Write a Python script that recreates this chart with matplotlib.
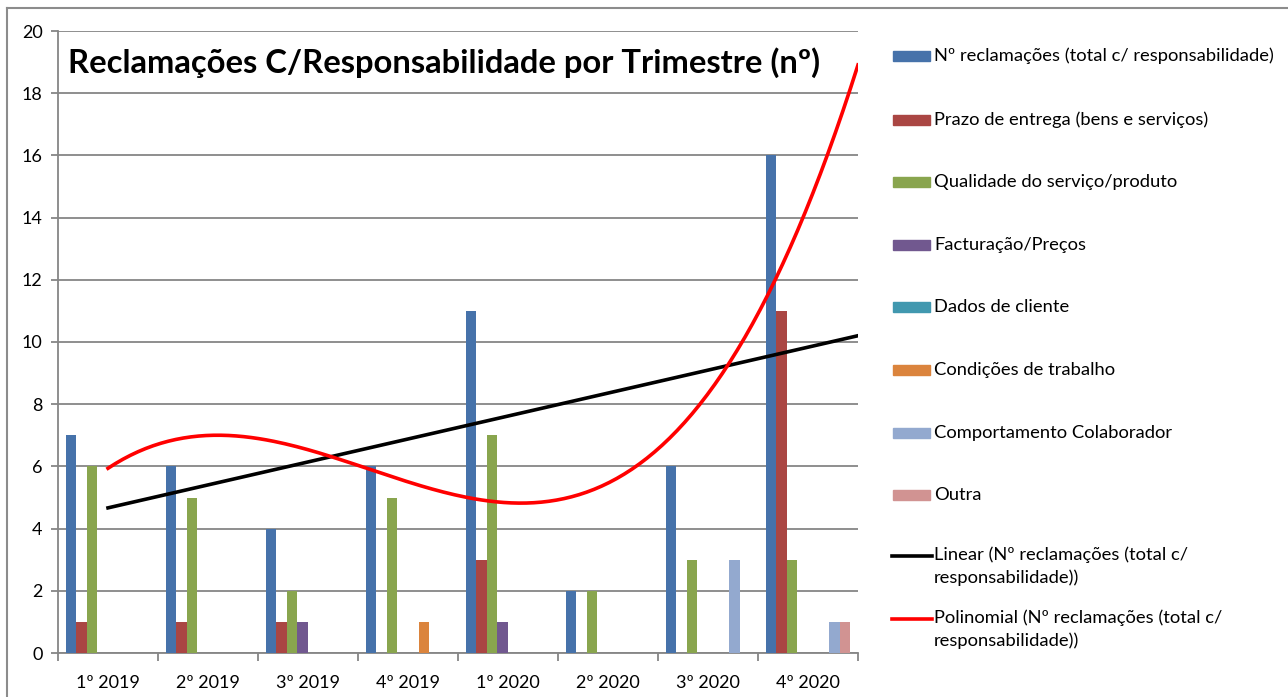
import numpy as np
import matplotlib.pyplot as plt
from matplotlib.patches import Rectangle
from matplotlib.lines import Line2D

plt.rcParams['font.family'] = ['Lato', 'DejaVu Sans']

trimestres = ['1º 2019', '2º 2019', '3º 2019', '4º 2019', '1º 2020', '2º 2020', '3º 2020', '4º 2020']
series = ['Nº reclamações (total c/ responsabilidade)', 'Prazo de entrega (bens e serviços)',
          'Qualidade do serviço/produto', 'Facturação/Preços', 'Dados de cliente',
          'Condições de trabalho', 'Comportamento Colaborador', 'Outra']
total = [7, 6, 4, 6, 11, 2, 6, 16]
prazo = [1, 1, 1, 0, 3, 0, 0, 11]
qualidade = [6, 5, 2, 5, 7, 2, 3, 3]
facturacao = [0, 0, 1, 0, 1, 0, 0, 0]
dados = [0, 0, 0, 0, 0, 0, 0, 0]
condicoes = [0, 0, 0, 1, 0, 0, 0, 0]
comportamento = [0, 0, 0, 0, 0, 0, 3, 1]
outra = [0, 0, 0, 0, 0, 0, 0, 1]
valores = [total, prazo, qualidade, facturacao, dados, condicoes, comportamento, outra]
cores = ['#4672AA', '#AA4643', '#89A54E', '#71588F', '#4198AF', '#DB843D', '#93A9CF', '#D19392']

fig = plt.figure(figsize=(12.88, 6.97), dpi=100)
W, H = 1288, 697
ax = fig.add_axes([58/W, 1-653/H, 800/W, 622/H])

x = np.arange(1, len(trimestres)+1)
w = 1/9.5
for i, v in enumerate(valores):
    ax.bar(x - 0.5 + 0.75*w + i*w + w/2, v, width=w, color=cores[i], zorder=3)

# linhas de tendência (linear e polinomial ordem 3), previsão +0.5
xt = np.linspace(1, 8.5, 200)
lin = np.polyfit(x, total, 1)
pol = np.polyfit(x, total, 3)
ax.plot(xt, np.polyval(lin, xt), color='black', lw=2.6, zorder=4)
ax.plot(xt, np.polyval(pol, xt), color='#FF0000', lw=2.6, zorder=4)

ax.set_xlim(0.5, 8.5)
ax.set_ylim(0, 20)
ax.set_yticks(range(0, 21, 2))
ax.set_xticks(np.arange(0.5, 9, 1))
ax.set_xticklabels([])
ax.set_xticks(x, minor=True)
ax.set_xticklabels(trimestres, minor=True)
ax.tick_params(axis='x', which='major', length=6, color='#868686', width=1.3)
ax.tick_params(axis='x', which='minor', length=0, pad=16, labelsize=13)
ax.tick_params(axis='y', length=5, color='#868686', width=1.3, labelsize=13, pad=6)
ax.grid(axis='y', color='#868686', lw=1.3, zorder=0)
for s in ['top', 'right']:
    ax.spines[s].set_visible(False)
for s in ['left', 'bottom']:
    ax.spines[s].set_color('#868686')
    ax.spines[s].set_linewidth(1.3)

ax.text((68-58)/800, 1-(63-31)/622, 'Reclamações C/Responsabilidade por Trimestre (nº)',
        transform=ax.transAxes, fontsize=23.6, fontweight='bold', va='center', ha='left')

# moldura
fig.add_artist(Line2D([7/W, 1], [1-8/H, 1-8/H], color='#8c8c8c', lw=1.5))
fig.add_artist(Line2D([7/W, 7/W], [0, 1-8/H], color='#8c8c8c', lw=1.5))

# legenda
ys = [56, 120, 182, 245, 307, 370, 433, 495]
for i, nome in enumerate(series):
    yy = 1 - ys[i]/H
    fig.add_artist(Rectangle((893/W, yy - 5/H), 37/W, 10/H, color=cores[i]))
    fig.text(934/W, yy, nome, fontsize=13.2, va='center', ha='left')
tend = [('Linear (Nº reclamações (total c/\nresponsabilidade))', 'black', 556),
        ('Polinomial (Nº reclamações (total c/\nresponsabilidade))', '#FF0000', 619)]
for nome, c, y0 in tend:
    yy = 1 - y0/H
    fig.add_artist(Line2D([892/W, 932/W], [yy, yy], color=c, lw=2.6))
    fig.text(934/W, yy + 10/H, nome, fontsize=13.2, va='top', ha='left', linespacing=1.5)

fig.savefig('out.png', dpi=100)
